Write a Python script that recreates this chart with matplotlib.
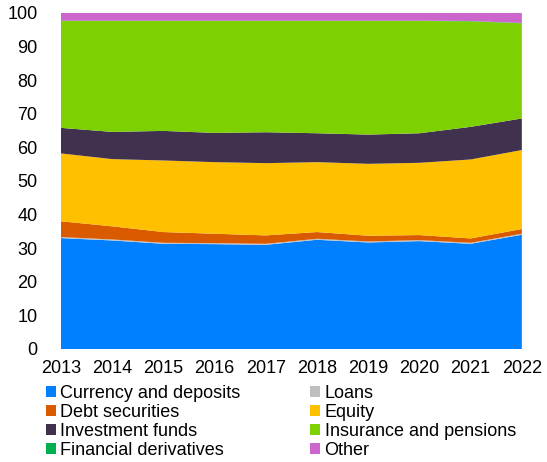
"""
Household financial assets by instrument, share of total (%), 2013-2022.
Stacked area chart with a two-column legend underneath.
"""

import matplotlib.pyplot as plt

plt.rcParams["font.family"] = ["Liberation Sans", "DejaVu Sans"]

# =========================================================
# Data
# =========================================================

years = [2013, 2014, 2015, 2016, 2017, 2018, 2019, 2020, 2021, 2022]

currency = [33.0, 32.3, 31.3, 31.2, 31.0, 32.5, 31.7, 32.1, 31.3, 34.0]
loans = [0.3, 0.3, 0.3, 0.3, 0.3, 0.3, 0.3, 0.3, 0.3, 0.3]
debt = [4.7, 3.9, 3.2, 2.8, 2.5, 2.0, 1.7, 1.5, 1.3, 1.4]
equity = [20.2, 20.0, 21.3, 21.3, 21.5, 20.8, 21.4, 21.5, 23.5, 23.5]
invest = [7.6, 8.1, 8.8, 8.7, 9.2, 8.6, 8.7, 8.8, 9.7, 9.4]
insurance = [31.8, 33.0, 32.7, 33.3, 33.1, 33.4, 33.8, 33.4, 31.4, 28.3]
derivatives = [0.1, 0.1, 0.1, 0.1, 0.1, 0.1, 0.1, 0.1, 0.1, 0.1]
other = [2.3, 2.3, 2.3, 2.3, 2.3, 2.3, 2.3, 2.3, 2.4, 3.0]

labels = [
    "Currency and deposits", "Loans", "Debt securities", "Equity",
    "Investment funds", "Insurance and pensions", "Financial derivatives", "Other",
]
colors = [
    "#0080FF", "#BFBFBF", "#DA5A00", "#FFC000",
    "#40324F", "#7DD100", "#00B050", "#CC66CC",
]

# =========================================================
# Plot
# =========================================================

fig = plt.figure(figsize=(5.47, 4.62), dpi=100)
ax = fig.add_axes([0.1115, 0.2446, 0.8425, 0.7274])

series = [currency, loans, debt, equity, invest, insurance, derivatives, other]
polys = ax.stackplot(years, series, colors=colors, labels=labels, linewidth=0)

ax.set_xlim(2013, 2022)
ax.set_ylim(0, 100)
ax.set_xticks(years)
ax.set_yticks(range(0, 101, 10))
ax.tick_params(axis="both", length=0, labelsize=13, colors="#000000")
ax.tick_params(axis="y", pad=17)
ax.tick_params(axis="x", pad=8)
for side in ax.spines.values():
    side.set_visible(False)

# legend reads row by row, matplotlib fills column by column
order = [0, 2, 4, 6, 1, 3, 5, 7]
fig.legend(
    handles=[polys[i] for i in order],
    labels=[labels[i] for i in order],
    loc="upper left",
    bbox_to_anchor=(0.084, 0.166),
    ncol=2,
    frameon=False,
    fontsize=13,
    handlelength=0.55,
    handleheight=0.55,
    handletextpad=0.25,
    columnspacing=3.85,
    labelspacing=0.1,
    borderpad=0,
    borderaxespad=0,
)

fig.savefig("out.png", dpi=100)
